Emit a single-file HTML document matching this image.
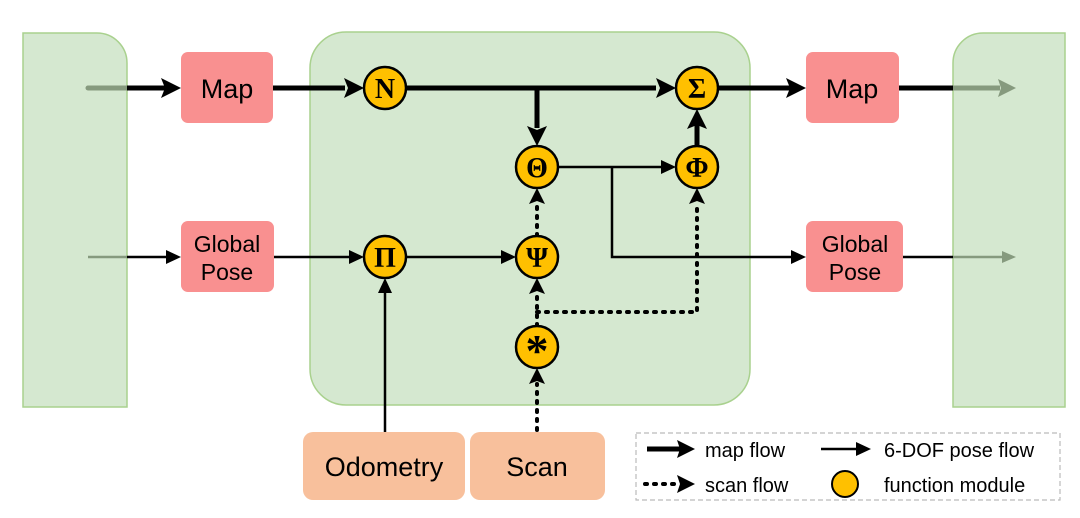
<!DOCTYPE html>
<html><head><style>body{margin:0;background:#fff}svg{display:block}text{font-family:"Liberation Sans",sans-serif}</style></head><body>
<svg width="1080" height="518" viewBox="0 0 1080 518">
<path d="M23 33 H97 A30 30 0 0 1 127 63 V407 H23 Z" fill="#d5e8d0" stroke="#a9d18e" stroke-width="1.5"/>
<rect x="310" y="32" width="440" height="373" rx="36" fill="#d5e8d0" stroke="#a9d18e" stroke-width="1.5"/>
<path d="M1065 33 H983 A30 30 0 0 0 953 63 V407 H1065 Z" fill="#d5e8d0" stroke="#a9d18e" stroke-width="1.5"/>
<rect x="181" y="52" width="92" height="71" rx="7" fill="#f99090"/>
<text x="227" y="98" font-size="27" text-anchor="middle">Map</text>
<rect x="181" y="221" width="93" height="71" rx="7" fill="#f99090"/>
<text x="227" y="252" font-size="23" text-anchor="middle">Global</text>
<text x="227" y="280" font-size="23" text-anchor="middle">Pose</text>
<rect x="806" y="52" width="93" height="71" rx="7" fill="#f99090"/>
<text x="852" y="98" font-size="27" text-anchor="middle">Map</text>
<rect x="806" y="221" width="97" height="71" rx="7" fill="#f99090"/>
<text x="855" y="252" font-size="23" text-anchor="middle">Global</text>
<text x="855" y="280" font-size="23" text-anchor="middle">Pose</text>
<rect x="303" y="432" width="162" height="68" rx="10" fill="#f8c09c"/>
<text x="384" y="476" font-size="27" text-anchor="middle">Odometry</text>
<rect x="470" y="432" width="135" height="68" rx="10" fill="#f8c09c"/>
<text x="537" y="476" font-size="27" text-anchor="middle">Scan</text>
<g stroke="#000" fill="none">
<line x1="88" y1="88" x2="127" y2="88" stroke="#869a7e" stroke-width="5" stroke-linecap="round"/>
<line x1="127" y1="88" x2="165" y2="88" stroke-width="5"/>
<line x1="273" y1="88" x2="345" y2="88" stroke-width="5"/>
<line x1="406" y1="88" x2="656" y2="88" stroke-width="5"/>
<line x1="537" y1="88" x2="537" y2="128" stroke-width="5"/>
<line x1="718" y1="88" x2="790" y2="88" stroke-width="5"/>
<line x1="899" y1="88" x2="953" y2="88" stroke-width="5"/>
<line x1="953" y1="88" x2="1000" y2="88" stroke="#869a7e" stroke-width="5"/>
<line x1="88" y1="257" x2="127" y2="257" stroke="#869a7e" stroke-width="2.5"/>
<line x1="127" y1="257" x2="168" y2="257" stroke-width="2.5"/>
<line x1="274" y1="257" x2="350" y2="257" stroke-width="2.5"/>
<line x1="406" y1="257" x2="502" y2="257" stroke-width="2.5"/>
<line x1="558" y1="167" x2="662" y2="167" stroke-width="2.5"/>
<polyline points="612,167 612,257 792,257" stroke-width="2.5"/>
<line x1="903" y1="257" x2="953" y2="257" stroke-width="2.5"/>
<line x1="953" y1="257" x2="1004" y2="257" stroke="#869a7e" stroke-width="2.5"/>
<line x1="385" y1="432" x2="385" y2="290" stroke-width="2.5"/>
<line x1="697" y1="146" x2="697" y2="124" stroke-width="5"/>
<g stroke-width="4" stroke-dasharray="2 7" stroke-linecap="round">
<line x1="537" y1="430" x2="537" y2="384"/>
<line x1="537" y1="326" x2="537" y2="292"/>
<line x1="537" y1="236" x2="537" y2="202"/>
<polyline points="537,312 697,312 697,202"/>
</g>
</g>
<g fill="#000">
<polygon points="181,88 161,78 165,88 161,98"/>
<polygon points="364,88 344,78 348,88 344,98"/>
<polygon points="676,88 656,78 660,88 656,98"/>
<polygon points="806,88 786,78 790,88 786,98"/>
<polygon points="537,146 527,126 537,130 547,126"/>
<polygon points="697,109 687,129 697,125 707,129"/>
<polygon points="181,257 166,250 166,264"/>
<polygon points="364,257 349,250 349,264"/>
<polygon points="516,257 501,250 501,264"/>
<polygon points="676,167 661,160 661,174"/>
<polygon points="806,257 791,250 791,264"/>
<polygon points="385,278 378,293 392,293"/>
<polygon points="537,368 529,384 537,381 545,384"/>
<polygon points="537,278 529,294 537,291 545,294"/>
<polygon points="537,188 529,204 537,201 545,204"/>
<polygon points="697,188 689,204 697,201 705,204"/>
</g>
<polygon points="1016,88 998,79 1001,88 998,97" fill="#869a7e"/>
<polygon points="1016,257 1002,251 1002,263" fill="#869a7e"/>
<g fill="#ffc000" stroke="#000" stroke-width="2.5">
<circle cx="385" cy="88" r="21"/><circle cx="697" cy="88" r="21"/>
<circle cx="537" cy="167" r="21"/><circle cx="697" cy="167" r="21"/>
<circle cx="385" cy="257" r="21"/><circle cx="537" cy="257" r="21"/>
<circle cx="537" cy="347" r="21"/>
</g>
<g font-weight="bold" font-size="28" text-anchor="middle">
<text x="385" y="98" style="font-family:'Liberation Serif',serif">N</text>
<text x="697" y="98" style="font-family:'Liberation Serif',serif">Σ</text>
<text x="537" y="177" style="font-family:'Liberation Serif',serif">Θ</text>
<text x="697" y="177" style="font-family:'Liberation Serif',serif">Φ</text>
<text x="385" y="267" style="font-family:'Liberation Serif',serif">Π</text>
<text x="537" y="267" style="font-family:'Liberation Serif',serif">Ψ</text>
<text x="537" y="366" font-size="46" style="font-family:'Liberation Serif',serif">*</text>
</g>
<rect x="636" y="433" width="424" height="67" fill="#fff" stroke="#bbb" stroke-width="1.2" stroke-dasharray="5 3"/>
<line x1="647" y1="449" x2="680" y2="449" stroke="#000" stroke-width="5"/>
<polygon points="695,449 677,440 680,449 677,458"/>
<text x="705" y="457" font-size="20">map flow</text>
<line x1="821" y1="449" x2="860" y2="449" stroke="#000" stroke-width="2.5"/>
<polygon points="871,449 856,442 856,456"/>
<text x="884" y="457" font-size="20">6-DOF pose flow</text>
<line x1="645" y1="484" x2="680" y2="484" stroke="#000" stroke-width="4" stroke-dasharray="2 7" stroke-linecap="round"/>
<polygon points="695,484 677,475 680,484 677,493"/>
<text x="705" y="492" font-size="20">scan flow</text>
<circle cx="845" cy="484" r="13" fill="#ffc000" stroke="#000" stroke-width="2"/>
<text x="884" y="492" font-size="20">function module</text>
</svg>
</body></html>
